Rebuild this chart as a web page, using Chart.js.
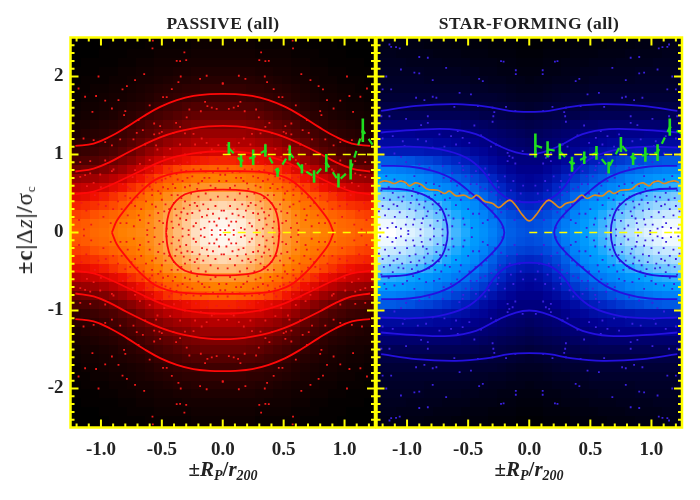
<!DOCTYPE html>
<html>
<head>
<meta charset="utf-8">
<title>Passive and star-forming phase space</title>
<script src="https://cdn.jsdelivr.net/npm/chart.js@4/dist/chart.umd.min.js"></script>
<style>
  html, body { margin: 0; padding: 0; background: #fff; }
  #wrap { position: relative; width: 700px; height: 500px; overflow: hidden; }
  canvas { position: absolute; left: 0; top: 0; }
  .lab { position: absolute; font-family: "Liberation Serif", serif; font-weight: bold; color: #222; white-space: nowrap; transform: translateX(-50%); }
  .ttl { font-size: 17.5px; top: 13px; letter-spacing: 0.45px; }
  .xt { font-size: 21px; top: 457px; }
  .xt sub { font-size: 14px; line-height: 0; vertical-align: -4px; }
  .yt { font-size: 23px; left: 25px; top: 230px; letter-spacing: 0.8px; transform: translate(-50%, -50%) rotate(-90deg); }
  .yt sub { font-size: 13px; line-height: 0; vertical-align: -3px; }
  .yt span { font-weight: normal; }
</style>
</head>
<body>
<div id="wrap">
  <canvas id="passive" width="700" height="500"></canvas>
  <canvas id="starforming" width="700" height="500"></canvas>
  <div class="lab ttl" style="left:223px">PASSIVE (all)</div>
  <div class="lab ttl" style="left:529px">STAR-FORMING (all)</div>
  <div class="lab xt" style="left:223px">±<i>R<sub>P</sub></i>/<i>r<sub>200</sub></i></div>
  <div class="lab xt" style="left:529px">±<i>R<sub>P</sub></i>/<i>r<sub>200</sub></i></div>
  <div class="lab yt">±c|<span>Δ<i>z</i></span>|/<span>σ<sub>c</sub></span></div>
</div>
<script>
// axes
let xLabels = [-1, -0.5, 0, 0.5, 1]
let yLabels = [-2, -1, 0, 1, 2]
let xMinor = [-1.2,-1.1,-0.9,-0.8,-0.7,-0.6,-0.4,-0.3,-0.2,-0.1,0.1,0.2,0.3,0.4,0.6,0.7,0.8,0.9,1.1,1.2]
let yMinor = [-2.4,-2.3,-2.2,-2.1,-1.9,-1.8,-1.7,-1.6,-1.5,-1.4,-1.3,-1.2,-1.1,-0.9,-0.8,-0.7,-0.6,-0.5,-0.4,-0.3,-0.2,-0.1,
              0.1,0.2,0.3,0.4,0.5,0.6,0.7,0.8,0.9,1.1,1.2,1.3,1.4,1.5,1.6,1.7,1.8,1.9,2.1,2.2,2.3,2.4]

// density cells, one quadrant (the plot is folded, so it repeats four times)
let heatX = [0,0.075,0.15,0.225,0.3,0.375,0.45,0.525,0.6,0.675,0.75,0.825,0.9,0.975,1.05,1.125,1.2,1.275]
let heatY = [0,0.115,0.23,0.345,0.46,0.575,0.69,0.805,0.92,1.035,1.15,1.265,1.38,1.495,1.61,1.725,1.84,1.955,2.07,2.185,2.3,2.415,2.53]
let cellW = 0.075
let cellH = 0.115
let passiveHeat = [
  [100,98,96,92,87,84,80,76,73,72,71,70,68,66,65,63,62,61],
  [98,97,95,91,87,83,80,76,73,71,70,69,67,65,64,62,61,60],
  [95,94,92,89,85,82,79,75,72,70,68,66,64,62,60,58,57,56],
  [90,89,88,85,82,79,76,73,70,67,65,62,59,57,55,54,53,52],
  [84,84,83,81,78,76,73,70,67,64,61,58,55,52,50,48,47,46],
  [76,76,75,74,72,70,67,64,61,57,54,50,47,44,42,41,40,39],
  [70,70,69,68,66,64,62,58,54,50,46,42,39,36,34,33,32,31],
  [64,64,63,62,60,58,55,51,46,42,38,34,31,28,26,25,24,24],
  [53,53,52,51,49,47,45,42,38,34,30,27,24,21,19,18,17,17],
  [44,44,43,43,42,40,38,35,32,28,24,21,18,16,14,13,12,12],
  [38,38,37,37,35,34,32,29,26,23,20,17,15,13,11,10,10,9],
  [33,33,33,32,30,29,27,24,21,19,16,14,12,10,9,8,7,7],
  [28,28,28,27,26,24,22,20,18,15,13,11,9,8,7,6,6,5],
  [24,24,24,23,22,20,18,16,14,12,10,9,7,6,5,5,4,4],
  [20,20,19,19,18,16,15,13,11,9,8,7,6,5,4,4,3,3],
  [15,15,15,14,13,12,11,10,8,7,6,5,5,4,3,3,2,2],
  [12,12,12,11,11,10,9,8,7,6,5,4,4,3,3,2,2,2],
  [9,9,9,9,8,8,7,6,5,5,4,3,3,2,2,2,1,1],
  [7,7,7,7,6,6,5,5,4,4,3,3,2,2,1,1,1,1],
  [5,5,5,5,5,4,4,4,3,3,2,2,1,1,1,1,0,0],
  [4,4,4,4,3,3,3,3,2,2,2,1,1,1,0,0,0,0],
  [3,3,3,3,2,2,2,2,2,1,1,1,1,0,0,0,0,0],
  [2,2,2,2,2,1,1,1,1,1,1,0,0,0,0,0,0,0]
]
let starHeat = [
  [50,51,53,56,60,65,69,73,77,82,87,91,94,96,98,100,100,100],
  [49,50,52,55,59,64,68,72,76,80,85,89,92,94,96,98,98,98],
  [46,47,49,52,56,61,66,70,73,77,81,84,87,90,92,93,94,94],
  [41,42,45,48,53,58,63,67,70,73,77,80,83,85,87,88,89,89],
  [37,38,41,45,50,55,59,62,65,68,71,74,77,79,81,82,83,83],
  [33,34,37,41,46,50,54,57,59,62,64,67,69,71,73,74,75,75],
  [31,32,34,37,41,45,48,51,53,56,58,61,63,65,67,68,69,70],
  [29,29,31,33,36,39,42,45,47,50,52,54,56,58,59,60,60,61],
  [27,27,28,30,32,34,37,39,41,43,45,47,48,50,51,52,52,52],
  [24,25,26,27,29,31,32,34,35,36,37,37,38,38,38,38,38,39],
  [22,23,24,25,27,28,29,30,31,32,32,33,33,33,33,33,33,33],
  [20,21,22,23,24,25,26,27,28,28,29,29,29,30,30,30,30,30],
  [17,18,19,20,21,22,23,23,24,24,24,24,24,24,24,24,24,24],
  [14,15,16,17,18,18,19,20,20,20,20,20,20,20,20,20,20,20],
  [11,12,13,14,14,15,15,16,16,16,16,16,16,16,16,16,16,16],
  [9,9,10,11,12,12,12,13,13,13,13,13,13,13,13,13,13,13],
  [7,7,8,9,9,10,10,11,11,11,11,11,11,11,11,11,11,11],
  [5,6,6,7,7,8,8,9,9,9,9,9,10,10,10,10,10,10],
  [4,4,5,5,6,6,7,7,8,8,8,8,9,9,9,9,9,9],
  [3,3,4,4,5,5,5,6,6,6,7,7,7,7,8,8,8,8],
  [2,2,3,3,3,4,4,4,5,5,5,6,6,6,6,7,7,7],
  [1,1,2,2,2,3,3,3,3,4,4,4,5,5,5,5,6,6],
  [0,0,1,1,1,2,2,2,2,3,3,3,3,4,4,4,4,5]
]
let passiveColors = [[0,'000000'],[10,'2a0000'],[20,'550000'],[30,'880000'],[40,'c00000'],[50,'f01000'],[60,'ff5000'],[70,'ff8000'],[80,'ffa850'],[90,'ffd8b0'],[100,'ffffff']]
let starColors = [[0,'000000'],[10,'000028'],[20,'000055'],[30,'000090'],[40,'0020c0'],[50,'0050e0'],[60,'0080f8'],[70,'00a0ff'],[80,'60c0ff'],[90,'b0e0ff'],[100,'ffffff']]

// galaxies, one quadrant
let passiveDots = [
  [.577,2.36],[.574,2.46],[.35,2.197],[.30,2.21],[.378,2.2],[.315,2.31],[.645,2.03],[.72,1.953],[.787,1.876],[.823,1.834],
  [1.02,2.0],[1.184,1.846],[1.13,1.74],[1.04,1.75],[.965,1.69],[.856,1.697],[.81,1.505],[.80,1.556],[.91,1.59],[1.07,1.547],
  [.60,1.63],[.49,1.735],[.46,1.735],[.418,1.838],[.364,1.928],[.345,2.0],[.186,1.97],[.132,2.01],[0,1.91],[.145,1.675],
  [.126,1.62],[.05,1.585],[.09,1.6],[.18,1.555],[.274,1.577],[.296,1.475],[.383,1.406],[.35,1.355],[.514,1.364],[.563,1.398],
  [.692,1.44],[.706,1.278],[.656,1.312],[.563,1.257],[.52,1.27],[.50,1.29],[.405,1.278],[.31,1.27],[.24,1.265],[.173,1.205],
  [.132,1.15],[.036,1.12],[.09,1.064],[.227,1.128],[.35,1.128],[.432,1.073],[.536,1.064],[.547,1.116],[.637,1.128],[.733,1.193],
  [.842,1.193],[.91,1.116],[.965,1.158],[1.06,1.184],[1.143,1.205],[1.17,.902],[1.088,.915],[.965,.923],[.897,.808],[.91,.787],
  [1.006,.744],[1.088,.757],[1.17,.714],[1.13,.735],[1.06,.637],[1.115,.594],[1.13,.509],
  [.82,.62],[.76,.56],[.70,.66],[.66,.60],[.62,.71],[.58,.55],[.55,.64],[.52,.76],[.49,.58],[.47,.69],[.44,.82],[.41,.62],
  [.38,.75],[.35,.87],[.33,.66],[.30,.79],[.27,.60],[.25,.72],[.22,.91],[.20,.63],[.18,.81],[.15,.70],[.12,.88],[.10,.60],
  [.08,.77],[.05,.94],[.03,.66],[.72,.80],[.68,.88],[.60,.93],[.56,.85],[.48,.97],[.40,.92],[.31,1.0],[.18,1.02],[.07,1.04],
  [.80,.47],[.75,.38],[.70,.45],[.67,.30],[.63,.40],[.60,.22],[.58,.48],[.55,.33],[.52,.15],[.50,.42],[.48,.27],[.46,.05],
  [.86,.40],[.90,.30],[.94,.48],[.98,.20],[1.02,.36],[1.08,.10],[.84,.12],[.78,.22],[.73,.08],[.68,.16],[.62,.03],[1.12,.28],
  [1.18,.16],[1.05,.48],
  [.42,.48],[.40,.38],[.38,.22],[.36,.10],[.34,.44],[.32,.31],[.30,.16],[.28,.03],[.26,.50],[.25,.25],[.23,.38],[.22,.12],
  [.20,.46],[.19,.28],[.17,.20],[.16,.36],[.15,.06],[.14,.50],[.12,.30],[.11,.14],[.10,.42],[.08,.24],[.06,.34],[.05,.09],
  [.04,.46],[.03,.18],[.02,.03],[.09,.03],[.18,.04],[.27,.35],[.34,.26],[.37,.48],[.42,.14],[.44,.30],
  [.78,.58],[.74,.71],[.65,.74],[.60,.59],[.57,.70],[.53,.53],[.50,.67],[.45,.56],[.43,.72],[.39,.57],[.37,.68],[.34,.80],
  [.31,.58],[.29,.70],[.24,.81],[.21,.56],[.17,.66],[.14,.78],[.11,.70],[.06,.57],[.04,.82],[.02,.74],[.64,.82],[.58,.79],
  [.50,.86],[.42,.78],[.29,.90],[.13,.96],[.83,.30],[.79,.12],[.76,.44],[.72,.34],[.69,.22],[.65,.50],[.61,.12],[.58,.36],
  [.56,.06],[.53,.25],[.51,.50],[.49,.12],[.47,.36],[.92,.12],[.96,.34],[1.0,.44],[.88,.52],[.93,.60],[1.0,.58],[1.14,.04],
  [1.16,.38],[.41,.06],[.39,.30],[.35,.18],[.33,.05],[.31,.40],[.29,.24],[.24,.08],[.21,.34],[.13,.22],[.07,.14],[.01,.28]
]
let starDots = [
  [1.13,2.38],[1.144,2.41],[1.09,2.376],[1.06,2.36],[1.05,2.09],[.94,2.05],[.90,2.04],[1.17,2.0],[.90,2.25],[.83,2.24],
  [.68,2.11],[.79,1.953],[.76,1.727],[.79,1.74],[.57,1.79],[.477,1.77],[.38,1.94],[.41,1.97],[.231,2.197],[.21,2.19],
  [.11,2.08],[.11,2.03],[.926,1.727],[.858,1.697],[1.2,1.834],[1.13,1.834],[.613,1.61],[.42,1.62],[.30,1.6],[.19,1.61],
  [.114,1.556],[.286,1.543],[.449,1.372],[.30,1.42],[.294,1.49],[.83,1.49],[1.008,1.457],[1.144,1.49],[1.21,1.49],[.885,1.376],
  [.83,1.406],[.735,1.257],[.585,1.3],[.545,1.214],[.64,1.235],[.395,1.244],[.313,1.1],[.272,1.128],[.163,.979],[.136,.958],
  [.177,.915],[.114,.885],[.054,1.043],[.177,1.02],[.49,1.15],[.599,1.128],[.694,1.1],[.79,1.086],[.912,1.193],[.844,1.17],
  [1.035,1.17],[1.02,1.107],[1.117,1.235],[1.2,1.205],[1.103,1.013],[1.049,.97],[1.008,.902],[.899,.872],[.817,.83],[.708,.85],
  [.572,.893],[.545,.85],[.436,.787],[.572,.637],[.64,.66],[.735,.594],[.844,.637],[.899,.594],[.94,.722],[1.035,.66],
  [1.103,.68],[1.185,.66],[1.17,.722],[1.117,.509],
  [1.22,.05],[1.18,.22],[1.14,.42],[1.12,.12],[1.08,.34],[1.05,.05],[1.03,.46],[1.0,.20],[.97,.38],[.95,.10],[.93,.28],[.91,.50],
  [.89,.04],[.87,.18],[.85,.40],[.83,.27],[.81,.09],[.79,.36],[.77,.48],[.75,.15],[.73,.29],[.71,.04],[.69,.42],[.66,.22],
  [.63,.08],[.60,.35],[.57,.50],[.54,.18],[.50,.30],[.47,.06],[.44,.44],[.41,.24],[.38,.12],[.35,.36],[.31,.52],[.28,.20],
  [.24,.42],[.22,.06],[.18,.30],[.15,.54],[.12,.16],[.08,.40],[.05,.60],[.20,.72],[.26,.66],[.33,.74],[.40,.58],[.48,.62],
  [.52,.72],[1.2,.34],[1.16,.06],[1.1,.2],[1.07,.45],[.99,.02],[.92,.42],[.86,.32],[.82,.46],[.76,.25],[.7,.16],[1.23,.27],
  [1.19,.44],[1.15,.30],[1.11,.36],[1.09,.07],[1.06,.26],[1.04,.40],[1.01,.10],[.98,.30],[.96,.47],[.94,.17],[.90,.36],[.88,.12],
  [.84,.21],[.80,.43],[.78,.05],[.74,.37],[.72,.50],[.68,.30],[.65,.44],[.62,.18],[.59,.60],[.56,.42],[.53,.10],[.49,.50],
  [.46,.24],[.43,.62],[.39,.42],[.36,.56],[.34,.16],[.30,.28],[.27,.48],[.25,.58],[.23,.26],[.16,.40],[.13,.66],[.10,.28],
  [.07,.50],[.95,.56],[1.0,.62],[1.09,.56],[1.15,.58],[1.21,.54],[.78,.62],[.70,.70],[.63,.76],[.54,.80],[.47,.72],[.36,.82]
]

// contours, one quadrant, listed outward
let passiveContours = [
  [[0,1.777],[.104,1.773],[.241,1.751],[.377,1.696],[.514,1.61],[.65,1.491],[.787,1.354],[.924,1.23],[1.06,1.14],[1.21,1.11]],
  [[0,1.367],[.12,1.36],[.241,1.335],[.377,1.29],[.514,1.22],[.65,1.125],[.787,1.02],[.924,.905],[1.06,.82],[1.21,.782]],
  [[0,1.04],[.12,1.035],[.241,1.015],[.377,.975],[.514,.905],[.65,.807],[.787,.705],[.924,.606],[1.06,.525],[1.21,.49]],
  [[0,.785],[.16,.785],[.35,.772],[.46,.735],[.555,.675],[.637,.577],[.72,.45],[.80,.30],[.87,.15],[.91,0]],
  [[0,.55],[.2,.534],[.31,.49],[.383,.405],[.43,.30],[.454,.17],[.465,0]]
]
let starContours = [
  [[0,1.547],[.163,1.56],[.354,1.615],[.599,1.645],[.926,1.624],[1.212,1.56]],
  [[0,1.0],[.109,1.026],[.245,1.11],[.436,1.26],[.654,1.325],[.926,1.316],[1.212,1.282]],
  [[0,.385],[.163,.427],[.272,.555],[.381,.79],[.517,.96],[.735,1.068],[.98,1.1],[1.212,1.09]]
]
let starLobes = [
  [[.204,0],[.231,.128],[.327,.3],[.463,.49],[.626,.684],[.79,.79],[.98,.846],[1.212,.855]],
  [[.667,0],[.686,.192],[.735,.342],[.844,.47],[1.008,.547],[1.212,.564]]
]

// running percentile line of the star-forming sample
let orangeLine = [[0,.149],[.054,.222],[.109,.342],[.158,.414],[.204,.372],[.25,.32],[.299,.372],[.367,.401],[.427,.478],[.476,.436],
  [.531,.478],[.599,.47],[.654,.53],[.694,.5],[.749,.542],[.831,.555],[.885,.615],[.931,.636],[.98,.598],[1.013,.641],
  [1.057,.658],[1.103,.628],[1.144,.649],[1.185,.662],[1.226,.641]]

// green binned values with errors
let greenX = [0.05,0.15,0.25,0.35,0.45,0.55,0.65,0.75,0.85,0.95,1.05,1.15,1.25]
let passiveGreen = [1.081,0.918,0.965,1.05,0.773,1.02,0.816,0.717,0.893,0.666,0.807,1.311,1.08]
let passiveErr = [.079,.083,.10,.08,.058,.096,.06,.08,.113,.09,.128,.15,0]
let starGreen = [1.115,1.066,1.04,0.876,0.957,1.021,0.833,1.128,0.944,1.0,1.025,1.35,1.27]
let starErr = [.154,.105,.10,.096,.08,.088,.075,.096,.08,.094,.107,.11,0]
let refLevels = [0, 1]

function rampColor(stops, v) {
  for (let i = 1; i < stops.length; i++) {
    if (v <= stops[i][0]) {
      let t = (v - stops[i-1][0]) / (stops[i][0] - stops[i-1][0])
      let a = parseInt(stops[i-1][1], 16)
      let b = parseInt(stops[i][1], 16)
      let r = Math.round((a >> 16) + ((b >> 16) - (a >> 16)) * t)
      let g = Math.round(((a >> 8) & 255) + (((b >> 8) & 255) - ((a >> 8) & 255)) * t)
      let c = Math.round((a & 255) + ((b & 255) - (a & 255)) * t)
      return 'rgb(' + r + ',' + g + ',' + c + ')'
    }
  }
  return '#fff'
}

function foldedDots(list) {
  let pts = []
  list.forEach(p => {
    pts.push({x:p[0],y:p[1]},{x:-p[0],y:p[1]},{x:p[0],y:-p[1]},{x:-p[0],y:-p[1]})
  })
  return pts
}

function lineSet(pts, color, width, dash) {
  return {data: pts, showLine: true, pointRadius: 0, borderColor: color, borderWidth: width, borderDash: dash || [], tension: dash ? 0 : 0.4, clip: 0}
}

// curve joined across x=0, one copy above and one below
function acrossX(curve, color) {
  let top = curve.slice().reverse().map(p => ({x:-p[0],y:p[1]})).concat(curve.slice(1).map(p => ({x:p[0],y:p[1]})))
  return [lineSet(top, color, 1.8), lineSet(top.map(p => ({x:p.x,y:-p.y})), color, 1.8)]
}

// curve joined across y=0, one copy on each side
function acrossY(curve, color) {
  let right = curve.slice().reverse().map(p => ({x:p[0],y:p[1]})).concat(curve.slice(1).map(p => ({x:p[0],y:-p[1]})))
  return [lineSet(right, color, 1.8), lineSet(right.map(p => ({x:-p.x,y:p.y})), color, 1.8)]
}

function greenSets(vals, errs) {
  let bars = []
  greenX.forEach((x, i) => {
    if (errs[i] > 0) bars.push({x:x,y:vals[i]-errs[i]},{x:x,y:vals[i]+errs[i]},{x:x,y:null})
  })
  return [
    lineSet(bars, '#1fe01f', 2.6, []),
    lineSet(greenX.map((x, i) => ({x:x,y:vals[i]})), '#1fe01f', 2.2, [7, 6])
  ].map(d => { d.tension = 0; return d })
}

// density cells sit behind the datasets, edges snapped so no seams show
let heatCells = {
  id: 'heatCells',
  beforeDatasetsDraw(chart, args, opts) {
    let a = chart.chartArea, c = chart.ctx, xs = chart.scales.x, ys = chart.scales.y
    c.save()
    c.beginPath()
    c.rect(a.left, a.top, a.right - a.left, a.bottom - a.top)
    c.clip()
    heatY.forEach((y, j) => heatX.forEach((x, i) => {
      c.fillStyle = rampColor(opts.stops, opts.rows[j][i])
      ;[[1,1],[-1,1],[1,-1],[-1,-1]].forEach(s => {
        let x0 = Math.round(xs.getPixelForValue(s[0]*x - cellW/2))
        let x1 = Math.round(xs.getPixelForValue(s[0]*x + cellW/2))
        let y0 = Math.round(ys.getPixelForValue(s[1]*y + cellH/2))
        let y1 = Math.round(ys.getPixelForValue(s[1]*y - cellH/2))
        c.fillRect(x0, y0, x1 - x0, y1 - y0)
      })
    }))
    c.restore()
  }
}

let frameTicks = {
  id: 'frameTicks',
  afterDatasetsDraw(chart) {
    let a = chart.chartArea, c = chart.ctx, xs = chart.scales.x, ys = chart.scales.y
    c.save()
    c.strokeStyle = '#ffff00'
    c.lineWidth = 2
    c.beginPath()
    xMinor.concat(xLabels).forEach(v => {
      let len = xLabels.includes(v) ? 8 : 4
      let px = xs.getPixelForValue(v)
      c.moveTo(px, a.top); c.lineTo(px, a.top + len)
      c.moveTo(px, a.bottom); c.lineTo(px, a.bottom - len)
    })
    yMinor.concat(yLabels).forEach(v => {
      let len = yLabels.includes(v) ? 8 : 4
      let py = ys.getPixelForValue(v)
      c.moveTo(a.left, py); c.lineTo(a.left + len, py)
      c.moveTo(a.right, py); c.lineTo(a.right - len, py)
    })
    c.stroke()
    c.lineWidth = 2.5
    c.strokeRect(a.left, a.top, a.right - a.left, a.bottom - a.top)
    c.restore()
  }
}

function makePanel(id, heatRows, stops, dots, dotColor, curves, extra, vals, errs, padding, withY) {
  let sets = []
  refLevels.forEach(y => sets.push(lineSet([{x:0,y:y},{x:1.25,y:y}], '#ffff00', 1.6, [8, 7])))
  sets = sets.concat(greenSets(vals, errs), extra, curves)
  sets.push({data: foldedDots(dots), pointStyle: 'rect', pointRadius: 1.3, pointBorderWidth: 0, backgroundColor: dotColor, clip: 0})
  return new Chart(document.getElementById(id), {
    type: 'scatter',
    data: {datasets: sets},
    options: {
      responsive: false,
      animation: false,
      layout: {padding: padding},
      plugins: {legend: {display: false}, tooltip: {enabled: false}, title: {display: false}, heatCells: {rows: heatRows, stops: stops}},
      events: [],
      scales: {
        x: {
          min: -1.25, max: 1.25,
          grid: {display: false, drawTicks: false},
          border: {display: false},
          afterBuildTicks: s => { s.ticks = xLabels.map(v => ({value: v})) },
          afterFit: s => { s.height = 72.5 },
          ticks: {
            autoSkip: false, maxRotation: 0, padding: 11, color: '#222',
            font: {family: '"Liberation Serif", serif', weight: 'bold', size: 19},
            callback: v => v.toFixed(1)
          }
        },
        y: {
          display: withY,
          min: -2.5, max: 2.5,
          grid: {display: false, drawTicks: false},
          border: {display: false},
          afterBuildTicks: s => { s.ticks = yLabels.map(v => ({value: v})) },
          afterFit: s => { s.width = withY ? 70.5 : 0 },
          ticks: {
            autoSkip: false, padding: 7, color: '#222',
            font: {family: '"Liberation Serif", serif', weight: 'bold', size: 19},
            callback: v => v.toFixed(0)
          }
        }
      }
    },
    plugins: [heatCells, frameTicks]
  })
}

document.addEventListener('DOMContentLoaded', function(){
  let passiveCurves = []
  passiveContours.forEach(c => { passiveCurves = passiveCurves.concat(acrossX(c, '#ff0808')) })
  makePanel('passive', passiveHeat, passiveColors, passiveDots, '#f01818', passiveCurves, [], passiveGreen, passiveErr,
    {left: 0, top: 37.5, right: 325, bottom: 0}, true)

  let starCurves = []
  starContours.forEach(c => { starCurves = starCurves.concat(acrossX(c, '#2410e0')) })
  starLobes.forEach(c => { starCurves = starCurves.concat(acrossY(c, '#2410e0')) })
  let orangeFull = orangeLine.slice().reverse().map(p => ({x:-p[0],y:p[1]})).concat(orangeLine.slice(1).map(p => ({x:p[0],y:p[1]})))
  makePanel('starforming', starHeat, starColors, starDots, '#3a20e0', starCurves, [lineSet(orangeFull, '#e08a20', 1.7)], starGreen, starErr,
    {left: 376.5, top: 37.5, right: 18, bottom: 0}, false)
})
</script>
</body>
</html>
